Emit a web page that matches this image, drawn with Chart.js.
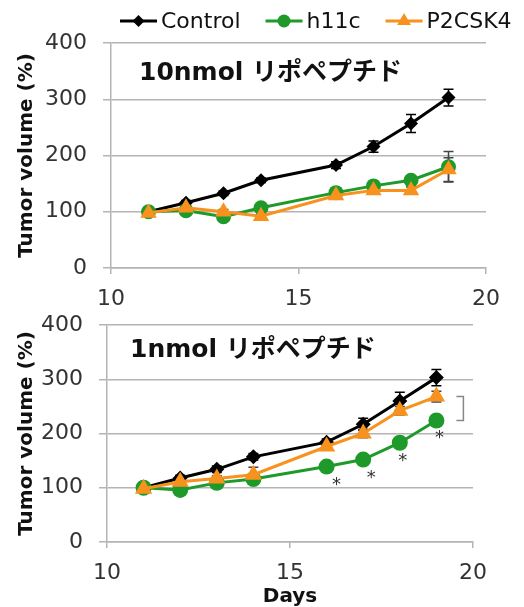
<!DOCTYPE html>
<html>
<head>
<meta charset="utf-8">
<script src="https://cdn.jsdelivr.net/npm/chart.js@4.4.1/dist/chart.umd.min.js"></script>
<style>
  html, body { margin: 0; padding: 0; background: #fff; }
  .panel { position: absolute; left: 0; width: 524px; }
  #top { top: 0; height: 310px; }
  #bottom { top: 310px; height: 297px; }
</style>
</head>
<body>
<div class="panel" id="top"><canvas id="chart10"></canvas></div>
<div class="panel" id="bottom"><canvas id="chart1"></canvas></div>
<script>
// data
const days = [11, 12, 13, 14, 16, 17, 18, 19];
const seriesNames = ['Control', 'h11c', 'P2CSK4'];
const yTicks = [0, 100, 200, 300, 400];
const xTicks = [10, 15, 20];

// 10 nmol panel
const control10 = [100, 116, 133, 156, 183, 216, 257, 303];
const h11c10 = [100, 102, 91, 107, 134, 146, 156, 180];
const p2csk10 = [98, 107, 100, 92, 129, 138, 138, 175];
const controlErr10 = [3, 4, 4, 4, 6, 10, 16, 15];
const h11cErr10 = [3, 3, 4, 4, 5, 6, 6, 27];
const p2cskErr10 = [3, 3, 4, 4, 5, 6, 6, 21];

// 1 nmol panel
const control1 = [100, 118, 134, 157, 184, 217, 260, 303];
const h11c1 = [100, 96, 109, 116, 139, 152, 183, 224];
const p2csk1 = [98, 111, 117, 124, 176, 200, 242, 268];
const controlErr1 = [3, 5, 6, 6, 6, 11, 16, 15];
const h11cErr1 = [3, 4, 4, 4, 6, 7, 8, 8];
const p2cskErr1 = [3, 4, 5, 14, 6, 8, 8, 10];
const sigDays1 = [16, 17, 18, 19];

const FONT = "'DejaVu Sans', 'Noto Sans CJK JP', sans-serif";
const COLORS = ['#000000', '#1f9a2a', '#f7921e'];
const STYLES = ['rectRot', 'circle', 'triangle'];
const GRID = '#b4b4b4';

function toPoints(vals) {
    return days.map((d, i) => ({ x: d, y: vals[i] }));
}

function makeDatasets(series, errs, radii) {
    return series.map((vals, i) => ({
        label: seriesNames[i],
        data: toPoints(vals),
        errors: errs[i],
        borderColor: COLORS[i],
        backgroundColor: COLORS[i],
        pointBackgroundColor: COLORS[i],
        pointBorderColor: COLORS[i],
        pointBorderWidth: 0,
        pointStyle: STYLES[i],
        pointRadius: radii[i],
        borderWidth: 3,
        tension: 0,
        order: 2 - i
    }));
}

// error bars behind the markers
const errorBarPlugin = {
    id: 'errorBars',
    beforeDatasetsDraw(chart) {
        const ctx = chart.ctx, ys = chart.scales.y;
        chart.data.datasets.forEach((ds, i) => {
            const meta = chart.getDatasetMeta(i);
            ctx.save();
            ctx.strokeStyle = i === 0 ? '#000' : '#444';
            ctx.lineWidth = 1.5;
            meta.data.forEach((pt, j) => {
                const v = ds.data[j].y, e = ds.errors[j];
                const yTop = ys.getPixelForValue(v + e), yBot = ys.getPixelForValue(v - e);
                ctx.beginPath();
                ctx.moveTo(pt.x, yTop); ctx.lineTo(pt.x, yBot);
                ctx.moveTo(pt.x - 5, yTop); ctx.lineTo(pt.x + 5, yTop);
                ctx.moveTo(pt.x - 5, yBot); ctx.lineTo(pt.x + 5, yBot);
                ctx.stroke();
            });
            ctx.restore();
        });
    }
};

function panelLabel(text, dx, dy) {
    return {
        id: 'panelLabel',
        afterDraw(chart) {
            const ctx = chart.ctx, a = chart.chartArea;
            ctx.save();
            ctx.font = 'bold 25px ' + FONT;
            ctx.fillStyle = '#111';
            ctx.textBaseline = 'middle';
            ctx.fillText(text, a.left + dx, a.top + dy);
            ctx.restore();
        }
    };
}

// Excel style legend: line with marker in the middle
const lineLegendPlugin = {
    id: 'lineLegend',
    afterDraw(chart) {
        const ctx = chart.ctx;
        const y = 21, lineLen = 37;
        const radii = [6, 6.5, 8];
        let x = 120;
        ctx.save();
        ctx.font = '22px ' + FONT;
        ctx.textBaseline = 'middle';
        chart.data.datasets.forEach((ds, i) => {
            ctx.strokeStyle = COLORS[i];
            ctx.fillStyle = COLORS[i];
            ctx.lineWidth = 3;
            ctx.beginPath();
            ctx.moveTo(x, y); ctx.lineTo(x + lineLen, y);
            ctx.stroke();
            Chart.helpers.drawPoint(ctx, { pointStyle: STYLES[i], radius: radii[i], rotation: 0, borderWidth: 0 }, x + lineLen / 2, y);
            ctx.fillStyle = '#111';
            ctx.fillText(ds.label, x + lineLen + 4, y + 1);
            x += lineLen + 4 + ctx.measureText(ds.label).width + 25;
        });
        ctx.restore();
    }
};

// significance marks for the 1 nmol panel
const sigPlugin = {
    id: 'sigMarks',
    afterDatasetsDraw(chart) {
        const ctx = chart.ctx, ys = chart.scales.y;
        const meta = chart.getDatasetMeta(1);
        const dxs = [10, 8, 3, 3];
        ctx.save();
        ctx.font = '18px ' + FONT;
        ctx.fillStyle = '#333';
        ctx.textAlign = 'center';
        ctx.textBaseline = 'alphabetic';
        sigDays1.forEach((d, k) => {
            const pt = meta.data[days.indexOf(d)];
            ctx.fillText('*', pt.x + dxs[k], pt.y + 23);
        });
        // bracket between P2CSK4 and h11c at the last day
        const last = days.length - 1;
        const px = meta.data[last].x;
        const yA = ys.getPixelForValue(p2csk1[last]);
        const yB = ys.getPixelForValue(h11c1[last]);
        ctx.strokeStyle = '#888';
        ctx.lineWidth = 1.5;
        ctx.beginPath();
        ctx.moveTo(px + 20, yA); ctx.lineTo(px + 27, yA);
        ctx.lineTo(px + 27, yB); ctx.lineTo(px + 20, yB);
        ctx.stroke();
        ctx.restore();
    }
};

function makeOptions(cfg) {
    return {
        responsive: true,
        maintainAspectRatio: false,
        animation: false,
        layout: { padding: cfg.padding },
        plugins: { legend: { display: false }, tooltip: { enabled: false } },
        scales: {
            x: {
                type: 'linear',
                min: 10,
                max: 20,
                afterBuildTicks: s => { s.ticks = xTicks.map(v => ({ value: v })); },
                afterFit: s => { s.height = cfg.xHeight; },
                grid: { drawOnChartArea: false, drawTicks: true, tickLength: 6, color: GRID, lineWidth: 1.5 },
                border: { display: true, color: GRID, width: 1.5 },
                ticks: { padding: 12, color: '#333', font: { family: FONT, size: 22 } },
                title: {
                    display: cfg.showDays,
                    text: 'Days',
                    color: '#111',
                    padding: 0,
                    font: { family: FONT, size: 20, weight: 'bold', lineHeight: 1 }
                }
            },
            y: {
                min: 0,
                max: 400,
                afterBuildTicks: s => { s.ticks = yTicks.map(v => ({ value: v })); },
                afterFit: s => { s.width = cfg.yWidth; s.paddingTop = 10; s.paddingBottom = 10; },
                grid: { color: GRID, lineWidth: 1.5, tickLength: 8 },
                border: { display: true, color: GRID, width: 1.5 },
                ticks: { padding: 16, color: '#333', font: { family: FONT, size: 22 } },
                title: {
                    display: true,
                    text: 'Tumor volume (%)',
                    color: '#111',
                    padding: { top: 15, bottom: 0 },
                    font: { family: FONT, size: 20, weight: 'bold' }
                }
            }
        }
    };
}

new Chart(document.getElementById('chart10'), {
    type: 'line',
    data: {
        datasets: makeDatasets([control10, h11c10, p2csk10], [controlErr10, h11cErr10, p2cskErr10], [7, 7.5, 9.5])
    },
    options: makeOptions({ padding: { top: 43, right: 38, left: 0, bottom: 0 }, xHeight: 42, yWidth: 111, showDays: false }),
    plugins: [errorBarPlugin, panelLabel('10nmol リポペプチド', 28, 30), lineLegendPlugin]
});

new Chart(document.getElementById('chart1'), {
    type: 'line',
    data: {
        datasets: makeDatasets([control1, h11c1, p2csk1], [controlErr1, h11cErr1, p2cskErr1], [7.5, 8, 10])
    },
    options: makeOptions({ padding: { top: 15, right: 51, left: 0, bottom: 0 }, xHeight: 65, yWidth: 107, showDays: true }),
    plugins: [errorBarPlugin, panelLabel('1nmol リポペプチド', 23, 25), sigPlugin]
});
</script>
</body>
</html>
